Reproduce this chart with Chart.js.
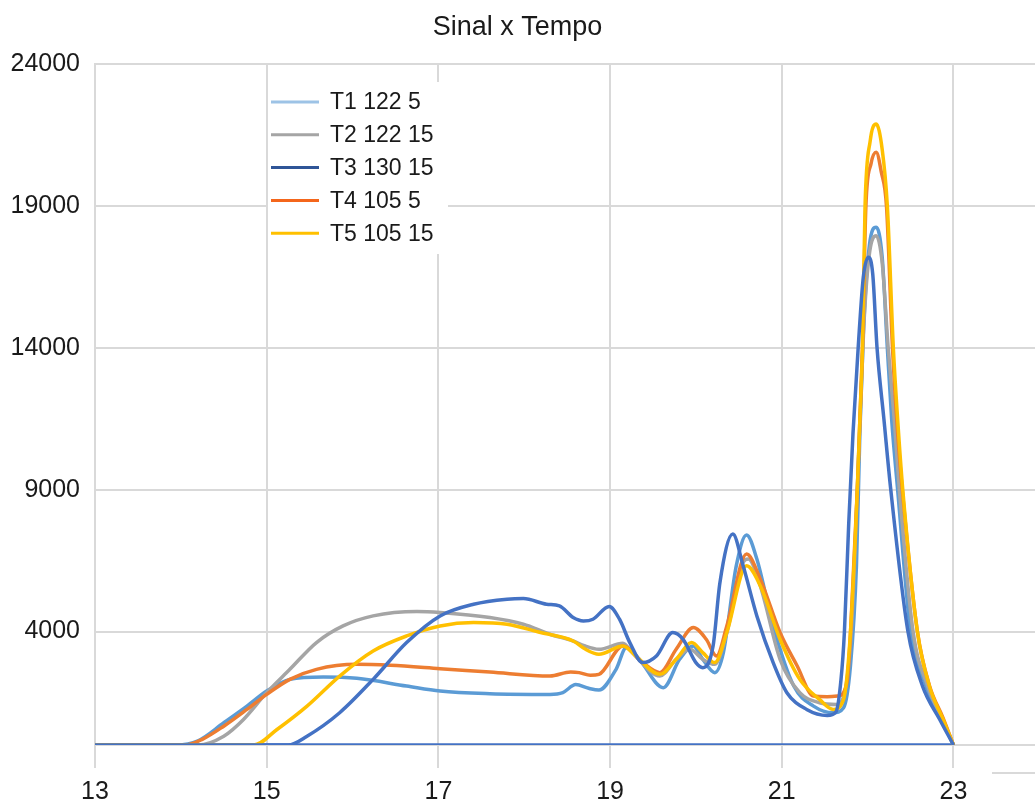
<!DOCTYPE html>
<html><head><meta charset="utf-8">
<script src="https://cdn.jsdelivr.net/npm/chart.js@4.4.1/dist/chart.umd.min.js"></script>
<style>html,body{margin:0;padding:0;background:#fff}#wrap{width:1035px;height:804px}</style>
</head><body><div id="wrap"><canvas id="c" width="1035" height="804"></canvas></div>
<script>
// ---- data ----
const seriesLabels = ['T1 122 5', 'T2 122 15', 'T3 130 15', 'T4 105 5', 'T5 105 15'];
const xTicks = [13, 15, 17, 19, 21, 23];
const yTicks = [0, 4000, 9000, 14000, 19000, 24000];

const t1X = [13, 13.95, 14.2, 14.5, 14.77, 15.0, 15.27, 15.66, 16.05, 16.63, 17.02, 17.6, 18.3, 18.45, 18.6, 18.75, 18.87, 19.07, 19.19, 19.34, 19.62, 19.81, 19.97, 20.08, 20.22, 20.32, 20.47, 20.59, 20.71, 20.9, 21.14, 21.37, 21.6, 21.72, 21.8, 21.87, 21.91, 21.95, 22.02, 22.1, 22.17, 22.23, 22.28, 22.35, 22.5, 22.68, 22.86, 23];
const t1Y = [0, 0, 150, 785, 1371, 1901, 2315, 2396, 2350, 2078, 1901, 1809, 1785, 1850, 2130, 2000, 1937, 2668, 3435, 3022, 2021, 3022, 3492, 3022, 2552, 3258, 6319, 7404, 6556, 4198, 2078, 1371, 1138, 1315, 2785, 6319, 11000, 14500, 17600, 18255, 17200, 14000, 11490, 9000, 4000, 2076, 900, 0];

const t2X = [13, 14.2, 14.5, 14.73, 15.0, 15.27, 15.58, 15.89, 16.24, 16.75, 17.02, 17.6, 17.99, 18.3, 18.57, 18.7, 18.87, 19.15, 19.26, 19.58, 19.77, 19.93, 20.08, 20.22, 20.36, 20.55, 20.61, 20.75, 20.98, 21.21, 21.44, 21.64, 21.76, 21.82, 21.88, 21.92, 21.96, 22.02, 22.1, 22.17, 22.24, 22.31, 22.37, 22.53, 22.7, 22.87, 23];
const t2Y = [0, 0, 311, 901, 1845, 2668, 3612, 4199, 4552, 4707, 4672, 4495, 4258, 3905, 3668, 3500, 3375, 3587, 3258, 2431, 3022, 3375, 3022, 2845, 3965, 6439, 6556, 5612, 3022, 1845, 1491, 1431, 2315, 4500, 9000, 12000, 15000, 17300, 17960, 17000, 14000, 11490, 9000, 4000, 2076, 900, 0];

const t3X = [13, 15.25, 15.47, 15.85, 16.24, 16.63, 17.02, 17.41, 17.8, 17.99, 18.26, 18.41, 18.57, 18.69, 18.8, 18.99, 19.11, 19.23, 19.38, 19.54, 19.73, 19.85, 20.0, 20.08, 20.2, 20.28, 20.43, 20.55, 20.71, 20.9, 21.06, 21.29, 21.53, 21.63, 21.69, 21.73, 21.78, 21.83, 21.89, 21.95, 22.01, 22.06, 22.11, 22.19, 22.27, 22.47, 22.64, 22.84, 23];
const t3Y = [0, 0, 311, 1138, 2315, 3612, 4552, 4965, 5142, 5166, 4965, 4905, 4495, 4375, 4435, 4884, 4435, 3612, 2905, 3138, 3965, 3728, 2905, 2728, 3492, 5732, 7439, 6319, 4552, 2905, 1845, 1255, 1043, 1160, 2300, 4000, 7800, 11000, 14000, 16500, 17200, 16600, 14000, 11490, 9000, 4000, 2076, 900, 0];

const t4X = [13, 14.05, 14.25, 14.5, 14.77, 15.0, 15.27, 15.58, 16.05, 16.44, 17.02, 17.6, 18.3, 18.54, 18.64, 18.77, 18.87, 19.15, 19.38, 19.58, 19.77, 19.97, 20.12, 20.24, 20.36, 20.59, 20.75, 20.98, 21.18, 21.37, 21.53, 21.65, 21.76, 21.8, 21.88, 21.91, 21.94, 21.98, 22.04, 22.1, 22.16, 22.22, 22.29, 22.35, 22.41, 22.58, 22.72, 22.88, 23];
const t4Y = [0, 0, 200, 664, 1255, 1785, 2315, 2668, 2845, 2810, 2693, 2573, 2431, 2573, 2552, 2460, 2491, 3492, 2905, 2552, 3375, 4142, 3728, 3138, 4198, 6732, 5849, 3965, 2785, 1725, 1703, 1725, 2198, 3900, 9000, 11490, 14000, 19000, 20500, 20900, 20200, 19000, 14000, 11000, 8800, 4000, 2100, 950, 0];

const t5X = [13, 14.85, 15.12, 15.47, 15.85, 16.24, 16.63, 17.02, 17.41, 17.8, 18.19, 18.57, 18.7, 18.87, 19.15, 19.3, 19.58, 19.77, 19.95, 20.08, 20.22, 20.36, 20.59, 20.75, 20.98, 21.21, 21.44, 21.6, 21.72, 21.8, 21.88, 21.91, 21.94, 21.97, 22.03, 22.1, 22.17, 22.23, 22.3, 22.35, 22.41, 22.58, 22.72, 22.88, 23];
const t5Y = [0, 0, 548, 1371, 2431, 3315, 3845, 4199, 4319, 4259, 3965, 3668, 3400, 3198, 3492, 3138, 2491, 3022, 3612, 3258, 2905, 3965, 6319, 5612, 3728, 2315, 1608, 1255, 1608, 3965, 9000, 11490, 14000, 19000, 21300, 21900, 21000, 19000, 14000, 11490, 9000, 4000, 2076, 900, 0];

// return line along zero drawn in the reference
const baseX = [13, 23];
const baseY = [0, 0];

// ---- styling ----
const lineColors = ['#5B9BD5', '#A5A5A5', '#4472C4', '#ED7D31', '#FFC000'];
const legendColors = ['#9DC3E6', '#A5A5A5', '#2F5597', '#F4661B', '#FFC000'];
const FONT = '"Liberation Sans", Arial, sans-serif';
const NARROW = '"Liberation Sans Narrow", "Arial Narrow", "Liberation Sans", Arial, sans-serif';

const pts = (xs, ys) => xs.map((x, i) => ({ x: x, y: ys[i] }));
const xs = [t1X, t2X, t3X, t4X, t5X];
const ys = [t1Y, t2Y, t3Y, t4Y, t5Y];
const drawOrder = [4, 3, 0, 2, 1];

const datasets = seriesLabels.map((lab, i) => ({
  label: lab,
  data: pts(xs[i], ys[i]),
  borderColor: lineColors[i],
  backgroundColor: lineColors[i],
  borderWidth: 3.5,
  pointRadius: 0,
  cubicInterpolationMode: 'monotone',
  fill: false,
  order: drawOrder[i]
}));
datasets.push({
  label: 'base',
  data: pts(baseX, baseY),
  borderColor: lineColors[2],
  borderWidth: 3.5,
  pointRadius: 0,
  fill: false,
  order: 9
});

const boxLegend = {
  id: 'boxLegend',
  afterDatasetsDraw(chart, args, o) {
    const ctx = chart.ctx;
    ctx.save();
    ctx.fillStyle = '#ffffff';
    ctx.fillRect(o.x, o.y, o.w, o.h);
    ctx.font = o.font;
    ctx.textBaseline = 'middle';
    ctx.textAlign = 'left';
    seriesLabels.forEach((t, i) => {
      const yy = o.firstY + i * o.gap;
      ctx.strokeStyle = legendColors[i];
      ctx.lineWidth = 3;
      ctx.beginPath();
      ctx.moveTo(o.lineX0, yy);
      ctx.lineTo(o.lineX1, yy);
      ctx.stroke();
      ctx.fillStyle = '#1a1a1a';
      ctx.fillText(t, o.textX, yy + 1);
    });
    // small stray axis fragment seen at bottom right of the reference
    ctx.strokeStyle = '#D9D9D9';
    ctx.lineWidth = 2;
    ctx.beginPath();
    ctx.moveTo(o.fragX0, o.fragY);
    ctx.lineTo(chart.width, o.fragY);
    ctx.stroke();
    ctx.restore();
  }
};

new Chart(document.getElementById('c'), {
  type: 'line',
  data: { datasets: datasets },
  plugins: [boxLegend],
  options: {
    responsive: false,
    animation: false,
    devicePixelRatio: 1,
    layout: { padding: { left: 0, right: 0, top: 0, bottom: 0 } },
    plugins: {
      legend: { display: false },
      tooltip: { enabled: false },
      title: {
        display: true,
        text: 'Sinal x Tempo',
        color: '#1a1a1a',
        font: { family: FONT, size: 27, weight: 'normal', lineHeight: 1.2 },
        padding: { top: 11, bottom: 21 }
      },
      boxLegend: {
        x: 268, y: 82, w: 180, h: 172,
        firstY: 102, gap: 32.8,
        lineX0: 271, lineX1: 319, textX: 330,
        font: '23px ' + FONT,
        fragX0: 992, fragY: 773
      }
    },
    scales: {
      x: {
        type: 'linear',
        min: 13,
        max: 23.95,
        afterBuildTicks: s => { s.ticks = xTicks.map(v => ({ value: v })); },
        afterFit: s => { s.height = 59; },
        grid: { color: '#D9D9D9', lineWidth: 2, drawTicks: true, tickLength: 23, tickColor: '#D9D9D9' },
        border: { color: '#D9D9D9', width: 2 },
        ticks: { font: { family: NARROW, size: 25 }, color: '#1a1a1a', padding: 9, maxRotation: 0, autoSkip: false }
      },
      y: {
        type: 'linear',
        min: 0,
        max: 24000,
        afterBuildTicks: s => { s.ticks = yTicks.map(v => ({ value: v })); },
        afterFit: s => { s.width = 95; },
        grid: { color: '#D9D9D9', lineWidth: 2, drawTicks: false },
        border: { color: '#D9D9D9', width: 2 },
        ticks: {
          padding: 15,
          font: { family: FONT, size: 25 },
          color: '#1a1a1a',
          callback: v => (v === 0 ? '' : String(v))
        }
      }
    }
  }
});
</script>
</body></html>
